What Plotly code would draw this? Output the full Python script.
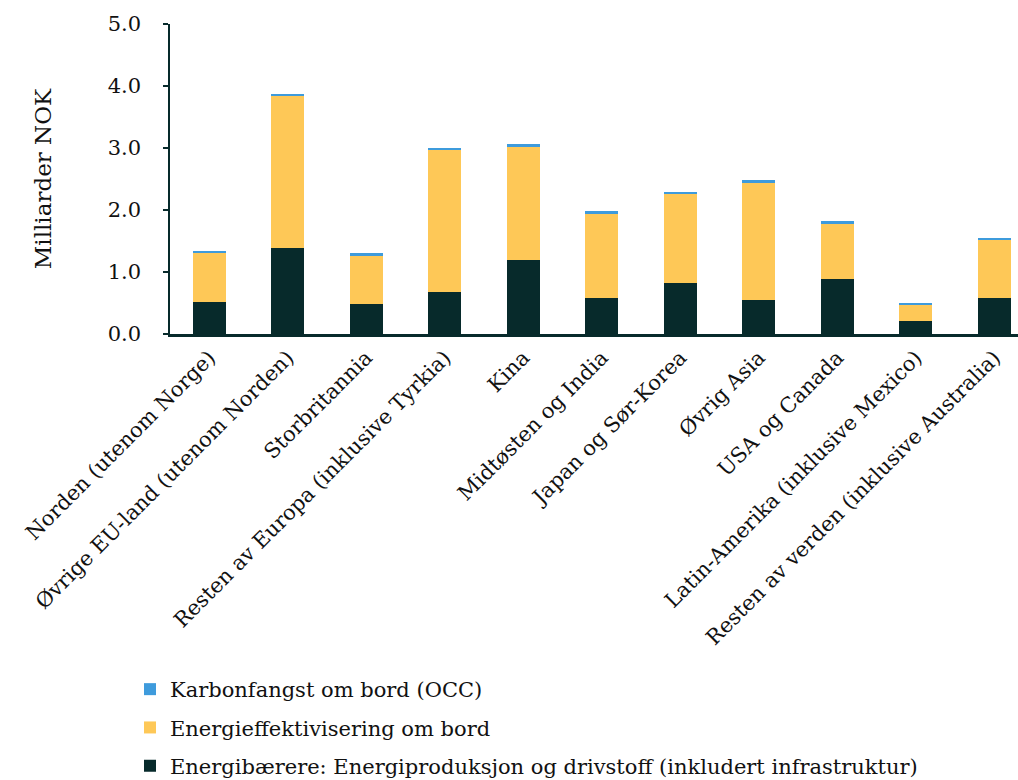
import plotly.graph_objects as go

# Regions (x-axis categories)
regions = [
    "Norden (utenom Norge)",
    "Øvrige EU-land (utenom Norden)",
    "Storbritannia",
    "Resten av Europa (inklusive Tyrkia)",
    "Kina",
    "Midtøsten og India",
    "Japan og Sør-Korea",
    "Øvrig Asia",
    "USA og Canada",
    "Latin-Amerika (inklusive Mexico)",
    "Resten av verden (inklusive Australia)",
]

# Milliarder NOK per segment
energibaerere = [0.52, 1.39, 0.48, 0.68, 1.19, 0.58, 0.82, 0.55, 0.89, 0.21, 0.58]
energieffektivisering = [0.79, 2.45, 0.79, 2.29, 1.84, 1.37, 1.44, 1.90, 0.90, 0.26, 0.94]
karbonfangst = [0.03, 0.03, 0.03, 0.03, 0.03, 0.03, 0.03, 0.03, 0.03, 0.03, 0.03]

y_ticks = [0, 1, 2, 3, 4, 5]

FONT = "DejaVu Serif"
DARK = "#072a2b"
YELLOW = "#fec857"
BLUE = "#3e9bdc"
TEXT = "#111111"

series = [
    ("Energibærere: Energiproduksjon og drivstoff (inkludert infrastruktur)", energibaerere, DARK),
    ("Energieffektivisering om bord", energieffektivisering, YELLOW),
    ("Karbonfangst om bord (OCC)", karbonfangst, BLUE),
]

fig = go.Figure()
for i, (name, vals, color) in enumerate(series):
    fig.add_trace(go.Bar(
        x=list(range(len(regions))),
        y=vals,
        name=name,
        marker=dict(color=color, line=dict(width=0)),
        width=0.42,
        legendgroup=f"g{i}",
        legendrank=3 - i,
    ))

fig.update_layout(
    barmode="stack",
    width=1018,
    height=780,
    autosize=False,
    margin=dict(l=170, r=0, t=24, b=446, autoexpand=False),
    paper_bgcolor="white",
    plot_bgcolor="white",
    font=dict(family=FONT, size=21, color=TEXT),
    showlegend=True,
    legend=dict(
        x=-40 / 848, y=-335 / 310,
        xanchor="left", yanchor="top",
        traceorder="grouped",
        tracegroupgap=8,
        font=dict(family=FONT, size=21, color=TEXT),
        bgcolor="rgba(0,0,0,0)",
    ),
    xaxis=dict(
        range=[-0.5, 10.3],
        tickmode="array",
        tickvals=list(range(len(regions))),
        ticktext=regions,
        tickangle=-45,
        automargin=False,
        showline=True,
        linecolor=DARK,
        linewidth=3,
        ticks="",
        showgrid=False,
        zeroline=False,
        tickfont=dict(family=FONT, size=21, color=TEXT),
    ),
    yaxis=dict(
        range=[0, 5],
        tickmode="array",
        tickvals=y_ticks,
        tickformat=".1f",
        automargin=False,
        showline=True,
        linecolor=DARK,
        linewidth=1.5,
        ticks="outside",
        ticklen=5,
        tickwidth=1.5,
        tickcolor=DARK,
        ticklabelstandoff=18,
        showgrid=False,
        zeroline=False,
        tickfont=dict(family=FONT, size=21, color=TEXT),
        title=dict(text="Milliarder NOK", font=dict(family=FONT, size=23, color=TEXT), standoff=50),
    ),
)

fig.write_html("out.html")
